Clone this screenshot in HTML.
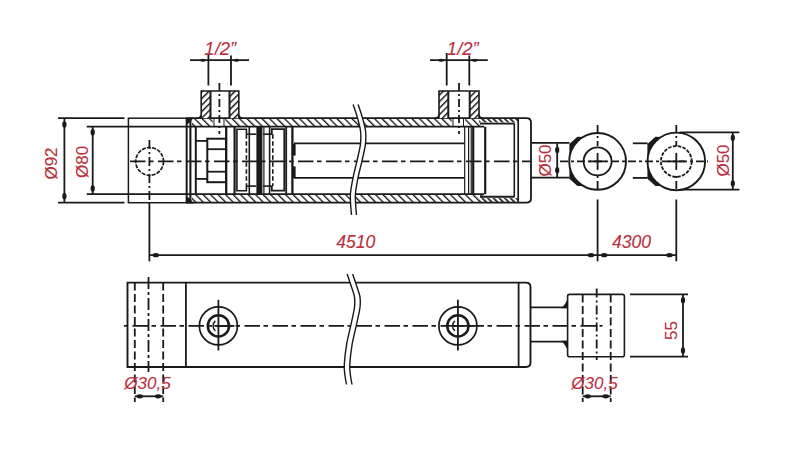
<!DOCTYPE html>
<html><head><meta charset="utf-8"><style>
html,body{margin:0;padding:0;background:#fff;width:800px;height:450px;overflow:hidden}
svg{display:block}
text{font-family:"Liberation Sans",sans-serif}
</style></head><body>
<svg width="800" height="450" viewBox="0 0 800 450">
<rect width="800" height="450" fill="#fff"/>
<defs>
<pattern id="hb" patternUnits="userSpaceOnUse" width="5.3" height="5.3" patternTransform="rotate(-45)">
<rect width="5.3" height="5.3" fill="#fff"/><rect x="0" y="0" width="1.35" height="5.3" fill="#1a1a1a"/></pattern>
<pattern id="hf" patternUnits="userSpaceOnUse" width="4.6" height="4.6" patternTransform="rotate(45)">
<rect width="4.6" height="4.6" fill="#fff"/><rect x="0" y="0" width="1.4" height="4.6" fill="#111"/></pattern>
<pattern id="ht" patternUnits="userSpaceOnUse" width="4" height="4" patternTransform="rotate(-45)">
<rect width="4" height="4" fill="#fff"/><rect x="0" y="0" width="1.7" height="4" fill="#1a1a1a"/></pattern>
</defs>
<line x1="58" y1="118.2" x2="124.5" y2="118.2" stroke="#1a1a1a" stroke-width="1.8"/>
<line x1="58" y1="202.7" x2="124.5" y2="202.7" stroke="#1a1a1a" stroke-width="1.8"/>
<line x1="64.4" y1="118.2" x2="64.4" y2="202.7" stroke="#1a1a1a" stroke-width="1.8"/>
<ellipse cx="64.4" cy="124.5" rx="2.1" ry="3.3" fill="#1a1a1a"/>
<ellipse cx="64.4" cy="196.3" rx="2.1" ry="3.3" fill="#1a1a1a"/>
<line x1="86.7" y1="126.7" x2="186.5" y2="126.7" stroke="#1a1a1a" stroke-width="1.8"/>
<line x1="86.7" y1="194.2" x2="186.5" y2="194.2" stroke="#1a1a1a" stroke-width="1.8"/>
<line x1="92.7" y1="126.7" x2="92.7" y2="194.2" stroke="#1a1a1a" stroke-width="1.8"/>
<ellipse cx="92.7" cy="132.3" rx="2.1" ry="3.3" fill="#1a1a1a"/>
<ellipse cx="92.7" cy="188.5" rx="2.1" ry="3.3" fill="#1a1a1a"/>
<text x="51.8" y="163.5" font-size="17" fill="#bb2f3d" text-anchor="middle" dominant-baseline="central" stroke="#bb2f3d" stroke-width="0.1" transform="rotate(-90 51.8 163.5)">Ø92</text>
<text x="82.3" y="161.8" font-size="17" fill="#bb2f3d" text-anchor="middle" dominant-baseline="central" stroke="#bb2f3d" stroke-width="0.1" transform="rotate(-90 82.3 161.8)">Ø80</text>
<rect x="128.4" y="118.2" width="58" height="84.49999999999999" fill="none" stroke="#1a1a1a" stroke-width="1.5"/>
<circle cx="149.6" cy="161.4" r="13.9" fill="none" stroke="#1a1a1a" stroke-width="1.7" stroke-dasharray="4 1.2"/>
<line x1="149.4" y1="140" x2="149.4" y2="202.7" stroke="#1a1a1a" stroke-width="1.8" stroke-dasharray="9 3 2 3"/>
<line x1="149.4" y1="202.7" x2="149.4" y2="261.3" stroke="#1a1a1a" stroke-width="1.8"/>
<rect x="192" y="118.2" width="291" height="8.5" fill="url(#hb)"/>
<rect x="192" y="194.2" width="291" height="8.5" fill="url(#hb)"/>
<rect x="212.7" y="118.2" width="12.6" height="8.5" fill="#fff"/>
<rect x="451.8" y="118.2" width="13.3" height="8.5" fill="#fff"/>
<line x1="214" y1="118.2" x2="214" y2="126.7" stroke="#1a1a1a" stroke-width="1"/>
<line x1="224" y1="118.2" x2="224" y2="126.7" stroke="#1a1a1a" stroke-width="1"/>
<line x1="453" y1="118.2" x2="453" y2="126.7" stroke="#1a1a1a" stroke-width="1"/>
<line x1="463.5" y1="118.2" x2="463.5" y2="126.7" stroke="#1a1a1a" stroke-width="1"/>
<rect x="479" y="118.2" width="39" height="4.3" fill="url(#ht)"/>
<rect x="479" y="198.1" width="39" height="4.6" fill="url(#ht)"/>
<path d="M186.4 118.2 H526.5 Q531 118.2 531 122.7 V198.2 Q531 202.7 526.5 202.7 H186.4" fill="none" stroke="#1a1a1a" stroke-width="1.8"/>
<line x1="186.4" y1="126.60000000000001" x2="484" y2="126.7" stroke="#1a1a1a" stroke-width="1.8"/>
<line x1="186.4" y1="194.2" x2="484" y2="194.2" stroke="#1a1a1a" stroke-width="1.8"/>
<line x1="480" y1="123.6" x2="514.5" y2="123.6" stroke="#1a1a1a" stroke-width="1.9"/>
<line x1="480" y1="196.7" x2="514.5" y2="196.7" stroke="#1a1a1a" stroke-width="1.9"/>
<line x1="186.9" y1="118.2" x2="186.9" y2="202.7" stroke="#1a1a1a" stroke-width="1.4"/>
<line x1="190.4" y1="118.2" x2="190.4" y2="202.7" stroke="#1a1a1a" stroke-width="2.1"/>
<path d="M186.2 117.4 H194 L189 123.2 L186.2 124.2Z M186.2 203.5 H194 L189 197.7 L186.2 196.7Z" fill="#1a1a1a"/>
<line x1="195.8" y1="126.7" x2="195.8" y2="194.2" stroke="#1a1a1a" stroke-width="2"/>
<rect x="201.2" y="91" width="9" height="27.200000000000003" fill="url(#hf)"/>
<rect x="229.8" y="91" width="9" height="27.200000000000003" fill="url(#hf)"/>
<path d="M201.2 118.2 V91 H238.8 V118.2" fill="none" stroke="#1a1a1a" stroke-width="1.6"/>
<line x1="210.5" y1="91" x2="210.5" y2="118.2" stroke="#1a1a1a" stroke-width="2"/>
<line x1="229.5" y1="91" x2="229.5" y2="118.2" stroke="#1a1a1a" stroke-width="2"/>
<path d="M195.7 118.2 Q201.2 117.2 201.2 112.2 V118.2z M244.3 118.2 Q238.8 117.2 238.8 112.2 V118.2z" fill="#1a1a1a"/>
<line x1="219.4" y1="83" x2="219.4" y2="134" stroke="#1a1a1a" stroke-width="1.8" stroke-dasharray="8 3 2 3"/>
<line x1="208.4" y1="53" x2="208.4" y2="85.5" stroke="#1a1a1a" stroke-width="1.8"/>
<line x1="231" y1="55.5" x2="231" y2="85.5" stroke="#1a1a1a" stroke-width="1.8"/>
<line x1="190" y1="60.2" x2="249" y2="60.2" stroke="#1a1a1a" stroke-width="1.8"/>
<ellipse cx="202.9" cy="60.2" rx="2.8" ry="1.5" fill="#1a1a1a"/>
<ellipse cx="236.5" cy="60.2" rx="2.8" ry="1.5" fill="#1a1a1a"/>
<text x="220.3" y="48" font-size="18.5" fill="#bb2f3d" text-anchor="middle" dominant-baseline="central" stroke="#bb2f3d" stroke-width="0.1" font-style="italic">1/2”</text>
<rect x="439" y="91" width="9" height="27.200000000000003" fill="url(#hf)"/>
<rect x="470" y="91" width="9" height="27.200000000000003" fill="url(#hf)"/>
<path d="M439 118.2 V91 H479 V118.2" fill="none" stroke="#1a1a1a" stroke-width="1.6"/>
<line x1="448.3" y1="91" x2="448.3" y2="118.2" stroke="#1a1a1a" stroke-width="2"/>
<line x1="469.7" y1="91" x2="469.7" y2="118.2" stroke="#1a1a1a" stroke-width="2"/>
<path d="M433.5 118.2 Q439 117.2 439 112.2 V118.2z M484.5 118.2 Q479 117.2 479 112.2 V118.2z" fill="#1a1a1a"/>
<line x1="459" y1="83" x2="459" y2="134" stroke="#1a1a1a" stroke-width="1.8" stroke-dasharray="8 3 2 3"/>
<line x1="446.7" y1="53" x2="446.7" y2="85.5" stroke="#1a1a1a" stroke-width="1.8"/>
<line x1="469.3" y1="55.5" x2="469.3" y2="85.5" stroke="#1a1a1a" stroke-width="1.8"/>
<line x1="430" y1="60.2" x2="487.8" y2="60.2" stroke="#1a1a1a" stroke-width="1.8"/>
<ellipse cx="441.2" cy="60.2" rx="2.8" ry="1.5" fill="#1a1a1a"/>
<ellipse cx="474.8" cy="60.2" rx="2.8" ry="1.5" fill="#1a1a1a"/>
<text x="462.8" y="48" font-size="18.5" fill="#bb2f3d" text-anchor="middle" dominant-baseline="central" stroke="#bb2f3d" stroke-width="0.1" font-style="italic">1/2”</text>
<line x1="196" y1="140.9" x2="207.3" y2="140.9" stroke="#1a1a1a" stroke-width="1.8"/>
<line x1="196" y1="178.9" x2="207.3" y2="178.9" stroke="#1a1a1a" stroke-width="1.8"/>
<rect x="207.3" y="138.7" width="18.7" height="43.5" fill="none" stroke="#1a1a1a" stroke-width="2"/>
<line x1="207.3" y1="149.2" x2="226" y2="149.2" stroke="#1a1a1a" stroke-width="1.8"/>
<line x1="207.3" y1="171.7" x2="226" y2="171.7" stroke="#1a1a1a" stroke-width="1.8"/>
<line x1="226.2" y1="126.7" x2="226.2" y2="194.2" stroke="#1a1a1a" stroke-width="2.3"/>
<line x1="234.6" y1="126.7" x2="234.6" y2="194.2" stroke="#1a1a1a" stroke-width="2.2"/>
<path d="M246.4 134.2 V129.2 H236.9 V190.7 H246.4 V186.1" fill="none" stroke="#1a1a1a" stroke-width="1.6"/>
<line x1="246.4" y1="134.2" x2="246.4" y2="186.1" stroke="#1a1a1a" stroke-width="1.6" stroke-dasharray="4.5 2.5"/>
<line x1="246.4" y1="134.2" x2="256.3" y2="134.2" stroke="#1a1a1a" stroke-width="1.6"/>
<line x1="246.4" y1="186.1" x2="256.3" y2="186.1" stroke="#1a1a1a" stroke-width="1.6"/>
<line x1="249.3" y1="126.7" x2="249.3" y2="194.2" stroke="#1a1a1a" stroke-width="1.6"/>
<rect x="256.4" y="126.7" width="6" height="67.49999999999999" fill="#1a1a1a"/>
<line x1="263.9" y1="126.7" x2="263.9" y2="194.2" stroke="#1a1a1a" stroke-width="1.2"/>
<line x1="269.6" y1="126.7" x2="269.6" y2="194.2" stroke="#1a1a1a" stroke-width="1.6"/>
<line x1="263" y1="134.2" x2="272.3" y2="134.2" stroke="#1a1a1a" stroke-width="1.6"/>
<line x1="263" y1="186.1" x2="272.3" y2="186.1" stroke="#1a1a1a" stroke-width="1.6"/>
<path d="M271.8 134.2 V129.2 H284.3 V190.7 H271.8 V186.1" fill="none" stroke="#1a1a1a" stroke-width="1.8"/>
<line x1="272.8" y1="134.2" x2="272.8" y2="186.1" stroke="#1a1a1a" stroke-width="1.6" stroke-dasharray="4.5 2.5"/>
<line x1="286.2" y1="126.7" x2="286.2" y2="194.2" stroke="#1a1a1a" stroke-width="1.8"/>
<line x1="292.4" y1="126.7" x2="292.4" y2="194.2" stroke="#1a1a1a" stroke-width="2.3"/>
<rect x="293" y="144" width="2.6" height="11.6" fill="#1a1a1a"/>
<rect x="293" y="166.4" width="2.6" height="11.6" fill="#1a1a1a"/>
<line x1="294" y1="143.3" x2="464.2" y2="143.3" stroke="#1a1a1a" stroke-width="1.8"/>
<line x1="294" y1="177.9" x2="464.2" y2="177.9" stroke="#1a1a1a" stroke-width="1.8"/>
<line x1="464.7" y1="126.7" x2="464.7" y2="194.2" stroke="#1a1a1a" stroke-width="1.2"/>
<line x1="468.6" y1="126.7" x2="468.6" y2="194.2" stroke="#1a1a1a" stroke-width="1.2"/>
<line x1="471.2" y1="126.7" x2="471.2" y2="194.2" stroke="#1a1a1a" stroke-width="1.2"/>
<line x1="473.2" y1="126.7" x2="473.2" y2="194.2" stroke="#1a1a1a" stroke-width="2.2"/>
<line x1="485.2" y1="126.7" x2="485.2" y2="194.2" stroke="#1a1a1a" stroke-width="2.2"/>
<line x1="514.3" y1="123.6" x2="514.3" y2="196.7" stroke="#1a1a1a" stroke-width="1.6"/>
<line x1="518.2" y1="118.2" x2="518.2" y2="202.7" stroke="#1a1a1a" stroke-width="1.7"/>
<line x1="531" y1="142.8" x2="569.5" y2="142.8" stroke="#1a1a1a" stroke-width="1.8"/>
<line x1="531" y1="177.6" x2="569.5" y2="177.6" stroke="#1a1a1a" stroke-width="1.8"/>
<line x1="557.2" y1="143.3" x2="557.2" y2="177.9" stroke="#1a1a1a" stroke-width="1.8"/>
<ellipse cx="557.2" cy="150" rx="2.1" ry="3.3" fill="#1a1a1a"/>
<ellipse cx="557.2" cy="170.3" rx="2.1" ry="3.3" fill="#1a1a1a"/>
<text x="545.5" y="160.5" font-size="17" fill="#bb2f3d" text-anchor="middle" dominant-baseline="central" stroke="#bb2f3d" stroke-width="0.1" transform="rotate(-90 545.5 160.5)">Ø50</text>
<path d="M569.4 161.4 V144.1 L577.4 136.8 L583.2365046036837 136.9 A28.4 28.4 0 0 0 569.2 161.4Z" fill="#1a1a1a"/>
<path d="M569.4 161.4 V178.70000000000002 L577.4 186.0 L583.2365046036837 185.9 A28.4 28.4 0 0 1 569.2 161.4Z" fill="#1a1a1a"/>
<circle cx="597.6" cy="161.4" r="28.4" fill="none" stroke="#1a1a1a" stroke-width="1.9"/>
<circle cx="597.6" cy="161.4" r="14.0" fill="none" stroke="#1a1a1a" stroke-width="1.8"/>
<line x1="597.6" y1="125" x2="597.6" y2="146" stroke="#1a1a1a" stroke-width="1.8" stroke-dasharray="8 3 2 3"/>
<line x1="597.6" y1="176" x2="597.6" y2="191" stroke="#1a1a1a" stroke-width="1.8" stroke-dasharray="2 3 8 3"/>
<line x1="589.1" y1="161.4" x2="606.1" y2="161.4" stroke="#1a1a1a" stroke-width="1.8"/>
<line x1="597.6" y1="152.9" x2="597.6" y2="169.9" stroke="#1a1a1a" stroke-width="1.8"/>
<line x1="597.6" y1="199.5" x2="597.6" y2="261.3" stroke="#1a1a1a" stroke-width="1.8"/>
<line x1="632.8" y1="143.3" x2="647.6" y2="143.3" stroke="#1a1a1a" stroke-width="1.8"/>
<line x1="632.8" y1="177.9" x2="647.6" y2="177.9" stroke="#1a1a1a" stroke-width="1.8"/>
<path d="M647.4 161.4 V144.1 L655.4 136.8 L661.1609775744931 136.9 A28.8 28.8 0 0 0 647.5 161.4Z" fill="#1a1a1a"/>
<path d="M647.4 161.4 V178.70000000000002 L655.4 186.0 L661.1609775744931 185.9 A28.8 28.8 0 0 1 647.5 161.4Z" fill="#1a1a1a"/>
<circle cx="676.3" cy="161.4" r="28.8" fill="none" stroke="#1a1a1a" stroke-width="1.9"/>
<circle cx="676.3" cy="161.4" r="15.4" fill="none" stroke="#1a1a1a" stroke-width="1.8" stroke-dasharray="3.6 1.3"/>
<line x1="676.3" y1="125" x2="676.3" y2="146" stroke="#1a1a1a" stroke-width="1.8" stroke-dasharray="8 3 2 3"/>
<line x1="676.3" y1="176" x2="676.3" y2="191" stroke="#1a1a1a" stroke-width="1.8" stroke-dasharray="2 3 8 3"/>
<line x1="667.8" y1="161.4" x2="684.8" y2="161.4" stroke="#1a1a1a" stroke-width="1.8"/>
<line x1="676.3" y1="152.9" x2="676.3" y2="169.9" stroke="#1a1a1a" stroke-width="1.8"/>
<line x1="676.3" y1="199.5" x2="676.3" y2="261.3" stroke="#1a1a1a" stroke-width="1.8"/>
<line x1="679.7" y1="132.3" x2="739.4" y2="132.3" stroke="#1a1a1a" stroke-width="1.8"/>
<line x1="679.7" y1="189.6" x2="739.4" y2="189.6" stroke="#1a1a1a" stroke-width="1.8"/>
<line x1="732.8" y1="132.3" x2="732.8" y2="189.6" stroke="#1a1a1a" stroke-width="1.8"/>
<ellipse cx="732.8" cy="137.8" rx="2.1" ry="3.3" fill="#1a1a1a"/>
<ellipse cx="732.8" cy="183.5" rx="2.1" ry="3.3" fill="#1a1a1a"/>
<text x="723.6" y="160.5" font-size="17" fill="#bb2f3d" text-anchor="middle" dominant-baseline="central" stroke="#bb2f3d" stroke-width="0.1" transform="rotate(-90 723.6 160.5)">Ø50</text>
<line x1="127" y1="161.4" x2="531" y2="161.4" stroke="#1a1a1a" stroke-width="1.8" stroke-dasharray="15.5 3.5 4.5 4.5" stroke-dashoffset="25"/>
<line x1="560" y1="161.4" x2="708" y2="161.4" stroke="#1a1a1a" stroke-width="1.8" stroke-dasharray="8 3 3 3"/>
<path d="M353.10 104.50 C353.73 106.42 355.70 111.87 356.90 116.00 C358.10 120.13 359.65 125.80 360.30 129.30 C360.95 132.80 360.80 134.33 360.80 137.00 C360.80 139.67 360.95 141.25 360.30 145.30 C359.65 149.35 358.10 155.97 356.90 161.30 C355.70 166.63 354.17 171.97 353.10 177.30 C352.03 182.63 350.92 188.85 350.50 193.30 C350.08 197.75 350.43 200.38 350.60 204.00 C350.77 207.62 351.35 213.17 351.50 215.00 L356.50 215.00 C356.35 213.17 355.77 207.62 355.60 204.00 C355.43 200.38 355.08 197.75 355.50 193.30 C355.92 188.85 357.03 182.63 358.10 177.30 C359.17 171.97 360.70 166.63 361.90 161.30 C363.10 155.97 364.65 149.35 365.30 145.30 C365.95 141.25 365.80 139.67 365.80 137.00 C365.80 134.33 365.95 132.80 365.30 129.30 C364.65 125.80 363.10 120.13 361.90 116.00 C360.70 111.87 358.73 106.42 358.10 104.50 Z" fill="#fff"/>
<path d="M353.10 104.50 C353.73 106.42 355.70 111.87 356.90 116.00 C358.10 120.13 359.65 125.80 360.30 129.30 C360.95 132.80 360.80 134.33 360.80 137.00 C360.80 139.67 360.95 141.25 360.30 145.30 C359.65 149.35 358.10 155.97 356.90 161.30 C355.70 166.63 354.17 171.97 353.10 177.30 C352.03 182.63 350.92 188.85 350.50 193.30 C350.08 197.75 350.43 200.38 350.60 204.00 C350.77 207.62 351.35 213.17 351.50 215.00" fill="none" stroke="#1a1a1a" stroke-width="1.4"/>
<path d="M358.10 104.50 C358.73 106.42 360.70 111.87 361.90 116.00 C363.10 120.13 364.65 125.80 365.30 129.30 C365.95 132.80 365.80 134.33 365.80 137.00 C365.80 139.67 365.95 141.25 365.30 145.30 C364.65 149.35 363.10 155.97 361.90 161.30 C360.70 166.63 359.17 171.97 358.10 177.30 C357.03 182.63 355.92 188.85 355.50 193.30 C355.08 197.75 355.43 200.38 355.60 204.00 C355.77 207.62 356.35 213.17 356.50 215.00" fill="none" stroke="#1a1a1a" stroke-width="1.4"/>
<line x1="149.4" y1="255.2" x2="676.3" y2="255.2" stroke="#1a1a1a" stroke-width="1.8"/>
<ellipse cx="155.8" cy="255.2" rx="3.3" ry="2.1" fill="#1a1a1a"/>
<ellipse cx="591" cy="255.2" rx="3.3" ry="2.1" fill="#1a1a1a"/>
<ellipse cx="604.2" cy="255.2" rx="3.3" ry="2.1" fill="#1a1a1a"/>
<ellipse cx="669.5" cy="255.2" rx="3.3" ry="2.1" fill="#1a1a1a"/>
<text x="355.8" y="241.6" font-size="17.6" fill="#bb2f3d" text-anchor="middle" dominant-baseline="central" stroke="#bb2f3d" stroke-width="0.1" font-style="italic">4510</text>
<text x="631.5" y="241.6" font-size="17.6" fill="#bb2f3d" text-anchor="middle" dominant-baseline="central" stroke="#bb2f3d" stroke-width="0.1" font-style="italic">4300</text>
<path d="M127.5 282.6 H526 Q530.5 282.6 530.5 287.1 V362.5 Q530.5 367 526 367 H127.5 Z" fill="none" stroke="#1a1a1a" stroke-width="1.9"/>
<line x1="185.9" y1="282.6" x2="185.9" y2="367" stroke="#1a1a1a" stroke-width="1.8"/>
<line x1="518.6" y1="282.6" x2="518.6" y2="367" stroke="#1a1a1a" stroke-width="1.8"/>
<line x1="134.8" y1="282.6" x2="134.8" y2="402" stroke="#1a1a1a" stroke-width="1.8" stroke-dasharray="8 3.5"/>
<line x1="163.2" y1="282.6" x2="163.2" y2="402" stroke="#1a1a1a" stroke-width="1.8" stroke-dasharray="8 3.5"/>
<line x1="148.5" y1="277" x2="148.5" y2="372" stroke="#1a1a1a" stroke-width="1.8" stroke-dasharray="12 3 3 3"/>
<line x1="124" y1="325.9" x2="602.5" y2="325.9" stroke="#1a1a1a" stroke-width="1.8" stroke-dasharray="15.5 3.5 4.5 4.5" stroke-dashoffset="19.5"/>
<circle cx="218.4" cy="325.9" r="19" fill="none" stroke="#1a1a1a" stroke-width="1.7"/>
<circle cx="218.4" cy="325.9" r="10.6" fill="none" stroke="#1a1a1a" stroke-width="2.5"/>
<path d="M215.4 320.9 A6.5 6.5 0 0 0 215.4 330.9" fill="none" stroke="#1a1a1a" stroke-width="1.4"/>
<line x1="218.4" y1="299.8" x2="218.4" y2="350.5" stroke="#1a1a1a" stroke-width="1.8"/>
<line x1="214.4" y1="325.9" x2="234.4" y2="325.9" stroke="#1a1a1a" stroke-width="1.8"/>
<circle cx="457.9" cy="325.9" r="19" fill="none" stroke="#1a1a1a" stroke-width="1.7"/>
<circle cx="457.9" cy="325.9" r="10.6" fill="none" stroke="#1a1a1a" stroke-width="2.5"/>
<path d="M454.9 320.9 A6.5 6.5 0 0 0 454.9 330.9" fill="none" stroke="#1a1a1a" stroke-width="1.4"/>
<line x1="457.9" y1="299.8" x2="457.9" y2="350.5" stroke="#1a1a1a" stroke-width="1.8"/>
<line x1="453.9" y1="325.9" x2="473.9" y2="325.9" stroke="#1a1a1a" stroke-width="1.8"/>
<path d="M347.10 274.00 C347.70 275.75 349.52 280.92 350.70 284.50 C351.88 288.08 353.52 292.58 354.20 295.50 C354.88 298.42 354.80 299.70 354.80 302.00 C354.80 304.30 354.88 305.32 354.20 309.30 C353.52 313.28 351.98 319.93 350.70 325.90 C349.42 331.87 347.57 338.68 346.50 345.10 C345.43 351.52 344.57 359.42 344.30 364.40 C344.03 369.38 344.53 371.65 344.90 375.00 C345.27 378.35 346.23 382.92 346.50 384.50 L352.00 384.50 C351.73 382.92 350.77 378.35 350.40 375.00 C350.03 371.65 349.53 369.38 349.80 364.40 C350.07 359.42 350.93 351.52 352.00 345.10 C353.07 338.68 354.92 331.87 356.20 325.90 C357.48 319.93 359.02 313.28 359.70 309.30 C360.38 305.32 360.30 304.30 360.30 302.00 C360.30 299.70 360.38 298.42 359.70 295.50 C359.02 292.58 357.38 288.08 356.20 284.50 C355.02 280.92 353.20 275.75 352.60 274.00 Z" fill="#fff"/>
<path d="M347.10 274.00 C347.70 275.75 349.52 280.92 350.70 284.50 C351.88 288.08 353.52 292.58 354.20 295.50 C354.88 298.42 354.80 299.70 354.80 302.00 C354.80 304.30 354.88 305.32 354.20 309.30 C353.52 313.28 351.98 319.93 350.70 325.90 C349.42 331.87 347.57 338.68 346.50 345.10 C345.43 351.52 344.57 359.42 344.30 364.40 C344.03 369.38 344.53 371.65 344.90 375.00 C345.27 378.35 346.23 382.92 346.50 384.50" fill="none" stroke="#1a1a1a" stroke-width="1.4"/>
<path d="M352.60 274.00 C353.20 275.75 355.02 280.92 356.20 284.50 C357.38 288.08 359.02 292.58 359.70 295.50 C360.38 298.42 360.30 299.70 360.30 302.00 C360.30 304.30 360.38 305.32 359.70 309.30 C359.02 313.28 357.48 319.93 356.20 325.90 C354.92 331.87 353.07 338.68 352.00 345.10 C350.93 351.52 350.07 359.42 349.80 364.40 C349.53 369.38 350.03 371.65 350.40 375.00 C350.77 378.35 351.73 382.92 352.00 384.50" fill="none" stroke="#1a1a1a" stroke-width="1.4"/>
<line x1="530.5" y1="307.4" x2="566.5" y2="307.4" stroke="#1a1a1a" stroke-width="1.8"/>
<line x1="530.5" y1="341.6" x2="566.5" y2="341.6" stroke="#1a1a1a" stroke-width="1.8"/>
<rect x="567.6" y="294.4" width="56.8" height="62.4" rx="2" fill="none" stroke="#1a1a1a" stroke-width="1.6"/>
<path d="M561.5 308.3 H568 V298.5 Q565.5 304 561.5 308.3Z M561.5 340.7 H568 V350.5 Q565.5 345 561.5 340.7Z" fill="#1a1a1a"/>
<line x1="582.7" y1="294.4" x2="582.7" y2="402" stroke="#1a1a1a" stroke-width="1.8" stroke-dasharray="8 3.5"/>
<line x1="610.7" y1="294.4" x2="610.7" y2="402" stroke="#1a1a1a" stroke-width="1.8" stroke-dasharray="8 3.5"/>
<line x1="596.7" y1="288.5" x2="596.7" y2="360" stroke="#1a1a1a" stroke-width="1.8" stroke-dasharray="9 3 2 3"/>
<line x1="630" y1="294.4" x2="688" y2="294.4" stroke="#1a1a1a" stroke-width="1.8"/>
<line x1="630" y1="356.6" x2="688" y2="356.6" stroke="#1a1a1a" stroke-width="1.8"/>
<line x1="683" y1="294.4" x2="683" y2="356.6" stroke="#1a1a1a" stroke-width="1.8"/>
<ellipse cx="683" cy="300.2" rx="2.1" ry="3.3" fill="#1a1a1a"/>
<ellipse cx="683" cy="350.5" rx="2.1" ry="3.3" fill="#1a1a1a"/>
<text x="671.5" y="330.5" font-size="17" fill="#bb2f3d" text-anchor="middle" dominant-baseline="central" stroke="#bb2f3d" stroke-width="0.1" transform="rotate(-90 671.5 330.5)">55</text>
<line x1="134.8" y1="396.3" x2="163.2" y2="396.3" stroke="#1a1a1a" stroke-width="1.8"/>
<ellipse cx="139.8" cy="396.3" rx="3.3" ry="2.1" fill="#1a1a1a"/>
<ellipse cx="158.2" cy="396.3" rx="3.3" ry="2.1" fill="#1a1a1a"/>
<text x="147.5" y="383.6" font-size="17" fill="#bb2f3d" text-anchor="middle" dominant-baseline="central" stroke="#bb2f3d" stroke-width="0.1" font-style="italic">Ø30,5</text>
<line x1="582.7" y1="396.3" x2="610.7" y2="396.3" stroke="#1a1a1a" stroke-width="1.8"/>
<ellipse cx="587.7" cy="396.3" rx="3.3" ry="2.1" fill="#1a1a1a"/>
<ellipse cx="605.7" cy="396.3" rx="3.3" ry="2.1" fill="#1a1a1a"/>
<text x="594.5" y="383.6" font-size="17" fill="#bb2f3d" text-anchor="middle" dominant-baseline="central" stroke="#bb2f3d" stroke-width="0.1" font-style="italic">Ø30,5</text>
</svg></body></html>
